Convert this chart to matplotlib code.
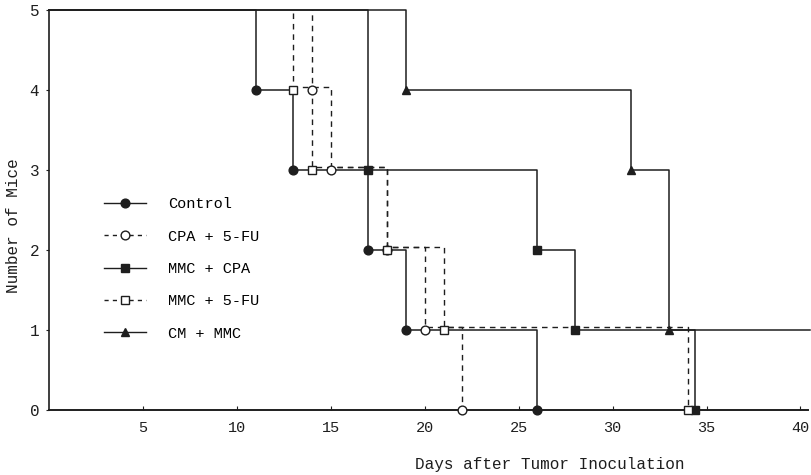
"""Survival steps: number of mice alive vs days after tumor inoculation."""
import matplotlib
matplotlib.use("Agg")
import matplotlib.pyplot as plt
import matplotlib.transforms as mtransforms
from matplotlib.lines import Line2D

plt.rcParams["font.family"] = ["Liberation Mono", "DejaVu Sans Mono"]
plt.rcParams["font.size"] = 11

INK = "#1e1e1e"
FOLLOW_UP = 40.5  # end of observation (days)

# death days (0 = start) and mice alive after each event
control_days = [0, 11, 13, 17, 19, 26]
control_mice = [5, 4, 3, 2, 1, 0]
cpa_5fu_days = [0, 14, 15, 18, 20, 22]
cpa_5fu_mice = [5, 4, 3, 2, 1, 0]
mmc_cpa_days = [0, 17, 26, 28, 34.4]
mmc_cpa_mice = [5, 3, 2, 1, 0]
mmc_5fu_days = [0, 13, 14, 18, 21, 34]
mmc_5fu_mice = [5, 4, 3, 2, 1, 0]
cm_mmc_days = [0, 19, 31, 33]
cm_mmc_mice = [5, 4, 3, 1]

labels = ["Control", "CPA + 5-FU", "MMC + CPA", "MMC + 5-FU", "CM + MMC"]
x_ticks = [5, 10, 15, 20, 25, 30, 35, 40]
y_ticks = [0, 1, 2, 3, 4, 5]

# (days, mice, dashed, marker, filled)
series = [
    (control_days, control_mice, False, "o", True),
    (cpa_5fu_days, cpa_5fu_mice, True, "o", False),
    (mmc_cpa_days, mmc_cpa_mice, False, "s", True),
    (mmc_5fu_days, mmc_5fu_mice, True, "s", False),
    (cm_mmc_days, cm_mmc_mice, False, "^", True),
]

fig = plt.figure(figsize=(8.12, 4.75), dpi=100)
ax = fig.add_axes([49 / 812, 65 / 475, 759 / 812, 400 / 475])
ax.set_xlim(0, 40.4)
ax.set_ylim(0, 5)

# dashed curves were drawn a hair above the solid ones in the original
lift = mtransforms.offset_copy(ax.transData, fig=fig, x=0, y=3, units="dots")

handles = []
for days, mice, dashed, mk, filled in series:
    xs = list(days)
    ys = list(mice)
    if ys[-1] > 0:
        xs.append(FOLLOW_UP)
        ys.append(ys[-1])
    if dashed:
        ax.step(xs, ys, where="post", color=INK, lw=1.0, dashes=(4, 3.5),
                transform=lift, zorder=2)
    else:
        ax.step(xs, ys, where="post", color=INK, lw=1.1, clip_on=False,
                zorder=3)
    face = INK if filled else "white"
    ax.plot(days[1:], mice[1:], ls="none", marker=mk, ms=6.3, mfc=face,
            mec=INK, mew=1.0, clip_on=False, zorder=4)
    handles.append(Line2D([], [], color=INK, lw=1.0,
                          ls="--" if dashed else "-",
                          dashes=(3, 3) if dashed else (None, None),
                          marker=mk, ms=6.3, mfc=face, mec=INK, mew=1.0))

ax.legend(handles, labels, loc="upper left", bbox_to_anchor=(0.072, 0.532),
          frameon=False, handlelength=2.8, handletextpad=1.4,
          labelspacing=1.2, borderpad=0, borderaxespad=0, fontsize=11)

for s in ("top", "right"):
    ax.spines[s].set_visible(False)
ax.spines["left"].set_color(INK)
ax.spines["bottom"].set_color(INK)
ax.spines["left"].set_linewidth(1.2)
ax.spines["bottom"].set_linewidth(1.4)

ax.set_xticks(x_ticks)
ax.set_yticks(y_ticks)
ax.tick_params(axis="x", direction="in", length=3, pad=8, colors=INK)
ax.tick_params(axis="y", direction="out", length=2, pad=5, colors=INK,
               labelsize=11.5)

ax.set_xlabel("Days after Tumor Inoculation", color=INK, fontsize=11.5)
ax.xaxis.set_label_coords(0.66, -0.118)
ax.set_ylabel("Number of Mice", color=INK, fontsize=11.5)
ax.yaxis.set_label_coords(-0.037, 0.46)

fig.savefig("out.png", dpi=100, facecolor="white")
